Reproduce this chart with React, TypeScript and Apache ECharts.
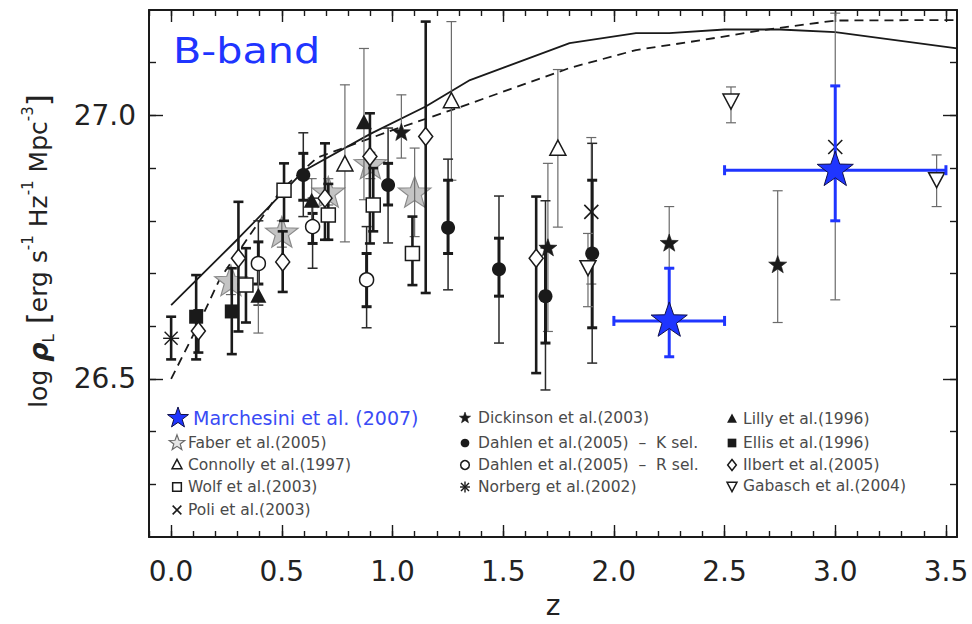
import React, { useEffect, useRef } from 'react';
import * as echarts from 'echarts';

const FONT = '"DejaVu Sans", "Liberation Sans", sans-serif';
const INK = '#1a1a1a';
const BLUE = '#1f35ff';
const GREY_BAR = '#6a6a6a';

// Axis ranges and ticks
const X_MIN = -0.1;
const X_MAX = 3.55;
const Y_MIN = 26.2;
const Y_MAX = 27.2;
const X_LABELS = [0, 0.5, 1, 1.5, 2, 2.5, 3, 3.5];
const X_MINOR = Array.from({ length: 37 }, (_, i) => Math.round(i - 1) / 10);
const Y_LABELS = [26.5, 27.0];
const Y_MINOR = Array.from({ length: 9 }, (_, i) => Math.round(263 + i) / 10);

// Model curves
const SOLID_Z = [0, 0.3, 0.6, 0.9, 1.15, 1.35, 1.8, 2.1, 2.25, 2.5, 2.75, 3.0, 3.55];
const SOLID_Y = [26.64, 26.765, 26.895, 26.965, 27.017, 27.067, 27.137, 27.156, 27.156, 27.163, 27.163, 27.158, 27.127];
const DASHED_Z = [0, 0.12, 0.22, 0.4, 0.5, 0.66, 1.0, 1.3, 1.8, 2.1, 2.4, 2.66, 3.0, 3.55];
const DASHED_Y = [26.5, 26.6, 26.69, 26.8, 26.86, 26.92, 26.972, 27.015, 27.09, 27.124, 27.143, 27.161, 27.18, 27.181];

// [z, logL, zLow, zHigh, logLLow, logLHigh]
const MARCHESINI = [
  [2.25, 26.61, 2.0, 2.5, 26.542, 26.71],
  [3.0, 26.896, 2.5, 3.5, 26.8, 27.056],
];
// [z, logL, low, high]
const FABER = [
  [0.27, 26.684, 26.66, 26.71],
  [0.5, 26.776, 26.75, 26.8],
  [0.71, 26.852, 26.83, 26.88],
  [0.9, 26.906, 26.88, 26.93],
  [1.1, 26.852, 26.77, 26.938],
];
const CONNOLLY = [
  [0.785, 26.906, 26.76, 27.058],
  [1.266, 27.026, 26.877, 27.178],
  [1.747, 26.936, 26.788, 27.087],
];
const WOLF = [
  [0.338, 26.678, 26.607, 26.748],
  [0.51, 26.858, 26.8, 26.909],
  [0.71, 26.811, 26.764, 26.87],
  [0.913, 26.83, 26.78, 26.9],
  [1.09, 26.738, 26.678, 26.808],
];
const POLI = [
  [1.898, 26.817, 26.68, 26.958],
  [3.0, 26.94, 26.65, 27.194],
];
const DICKINSON = [
  [1.04, 26.967, 26.919, 27.039],
  [1.702, 26.748, 26.59, 26.909],
  [2.25, 26.757, 26.71, 26.827],
  [2.74, 26.716, 26.607, 26.857],
];
// [z, logL, low, high, innerLow, innerHigh]
const DAHLEN_K = [
  [0.597, 26.887, 26.808, 26.967, 26.839, 26.928],
  [0.98, 26.868, 26.758, 26.976, 26.83, 26.909],
  [1.251, 26.787, 26.669, 26.917, 26.738, 26.877],
  [1.481, 26.708, 26.568, 26.847, 26.657, 26.767],
  [1.691, 26.657, 26.479, 26.838, 26.568, 26.75],
  [1.902, 26.738, 26.53, 26.947, 26.597, 26.877],
];
const DAHLEN_R = [
  [0.394, 26.719, 26.64, 26.8, 26.68, 26.76],
  [0.639, 26.789, 26.71, 26.843, 26.757, 26.814],
  [0.883, 26.688, 26.597, 26.789, 26.637, 26.738],
];
const NORBERG = [[0.0, 26.577, 26.537, 26.618]];
const LILLY = [
  [0.394, 26.656, 26.587, 26.72],
  [0.635, 26.836, 26.79, 26.88],
  [0.871, 26.985, 26.84, 27.127],
];
const ELLIS = [
  [0.113, 26.618, 26.537, 26.697],
  [0.274, 26.628, 26.547, 26.71],
];
const ILBERT = [
  [0.123, 26.591, 26.55, 26.63],
  [0.304, 26.729, 26.59, 26.836],
  [0.504, 26.722, 26.665, 26.78],
  [0.695, 26.843, 26.764, 26.947],
  [0.898, 26.922, 26.757, 27.004],
  [1.15, 26.96, 26.663, 27.178],
  [1.649, 26.729, 26.511, 26.846],
];
const GABASCH = [
  [1.883, 26.713, 26.637, 26.776],
  [2.529, 27.029, 26.986, 27.054],
  [3.458, 26.88, 26.827, 26.925],
];

// Legend entries, column by column
const LEGEND_COL1 = [
  { label: 'Marchesini et al. (2007)', glyph: 'blueStar' },
  { label: 'Faber et al.(2005)', glyph: 'faberOpen' },
  { label: 'Connolly et al.(1997)', glyph: 'openTri' },
  { label: 'Wolf et al.(2003)', glyph: 'openBox' },
  { label: 'Poli et al.(2003)', glyph: 'cross' },
];
const LEGEND_COL2 = [
  { label: 'Dickinson et al.(2003)', glyph: 'smallStar' },
  { label: 'Dahlen et al.(2005)  \u2013  K sel.', glyph: 'dot' },
  { label: 'Dahlen et al.(2005)  \u2013  R sel.', glyph: 'ring' },
  { label: 'Norberg et al.(2002)', glyph: 'aster' },
];
const LEGEND_COL3 = [
  { label: 'Lilly et al.(1996)', glyph: 'tri' },
  { label: 'Ellis et al.(1996)', glyph: 'box' },
  { label: 'Ilbert et al.(2005)', glyph: 'openDiamond' },
  { label: 'Gabasch et al.(2004)', glyph: 'openDownTri' },
];

function starPts(cx: number, cy: number, R: number, r: number) {
  const pts: number[][] = [];
  for (let i = 0; i < 10; i++) {
    const a = -Math.PI / 2 + (i * Math.PI) / 5;
    const rr = i % 2 === 0 ? R : r;
    pts.push([cx + rr * Math.cos(a), cy + rr * Math.sin(a)]);
  }
  return pts;
}

function ln(x1: number, y1: number, x2: number, y2: number, stroke: string, lineWidth: number) {
  return { type: 'line', shape: { x1, y1, x2, y2 }, style: { stroke, lineWidth } };
}

function glyph(kind: string, cx: number, cy: number, k: number): any {
  switch (kind) {
    case 'blueStar':
      return { type: 'polygon', shape: { points: starPts(cx, cy, 19 * k, 7.6 * k) }, style: { fill: BLUE, stroke: '#10104a', lineWidth: 1 } };
    case 'faber':
      return { type: 'polygon', shape: { points: starPts(cx, cy, 17 * k, 7 * k) }, style: { fill: '#c4c4c4', stroke: '#8a8a8a', lineWidth: 1.2 } };
    case 'faberOpen':
      return { type: 'polygon', shape: { points: starPts(cx, cy, 17 * k, 7 * k) }, style: { fill: '#e6e6e6', stroke: '#6a6a6a', lineWidth: 1.2 } };
    case 'smallStar':
      return { type: 'polygon', shape: { points: starPts(cx, cy, 9.5 * k, 3.9 * k) }, style: { fill: INK, stroke: INK, lineWidth: 0.6 } };
    case 'dot':
      return { type: 'circle', shape: { cx, cy, r: 7 * k }, style: { fill: INK } };
    case 'ring':
      return { type: 'circle', shape: { cx, cy, r: 7 * k }, style: { fill: '#fff', stroke: INK, lineWidth: 1.5 } };
    case 'box':
      return { type: 'rect', shape: { x: cx - 7 * k, y: cy - 7 * k, width: 14 * k, height: 14 * k }, style: { fill: INK } };
    case 'openBox':
      return { type: 'rect', shape: { x: cx - 7 * k, y: cy - 7 * k, width: 14 * k, height: 14 * k }, style: { fill: '#fff', stroke: INK, lineWidth: 1.5 } };
    case 'tri':
      return { type: 'polygon', shape: { points: [[cx, cy - 9 * k], [cx + 8 * k, cy + 6 * k], [cx - 8 * k, cy + 6 * k]] }, style: { fill: INK } };
    case 'openTri':
      return { type: 'polygon', shape: { points: [[cx, cy - 9 * k], [cx + 8 * k, cy + 6 * k], [cx - 8 * k, cy + 6 * k]] }, style: { fill: '#fff', stroke: INK, lineWidth: 1.5 } };
    case 'openDownTri':
      return { type: 'polygon', shape: { points: [[cx, cy + 9 * k], [cx + 8 * k, cy - 6 * k], [cx - 8 * k, cy - 6 * k]] }, style: { fill: '#fff', stroke: INK, lineWidth: 1.5 } };
    case 'openDiamond':
      return { type: 'polygon', shape: { points: [[cx, cy - 9 * k], [cx + 7 * k, cy], [cx, cy + 9 * k], [cx - 7 * k, cy]] }, style: { fill: '#fff', stroke: INK, lineWidth: 1.5 } };
    case 'cross':
      return {
        type: 'group',
        children: [
          ln(cx - 7 * k, cy - 7 * k, cx + 7 * k, cy + 7 * k, INK, 1.6),
          ln(cx - 7 * k, cy + 7 * k, cx + 7 * k, cy - 7 * k, INK, 1.6),
        ],
      };
    case 'aster':
      return {
        type: 'group',
        children: [
          ln(cx, cy - 9 * k, cx, cy + 9 * k, INK, 1.4),
          ln(cx - 8 * k, cy, cx + 8 * k, cy, INK, 1.4),
          ln(cx - 6.5 * k, cy - 6.5 * k, cx + 6.5 * k, cy + 6.5 * k, INK, 1.4),
          ln(cx - 6.5 * k, cy + 6.5 * k, cx + 6.5 * k, cy - 6.5 * k, INK, 1.4),
        ],
      };
    default:
      return { type: 'group', children: [] };
  }
}

function vBar(x: number, yTop: number, yBot: number, stroke: string, lw: number, cap: number) {
  return [
    ln(x, yTop, x, yBot, stroke, lw),
    ln(x - cap, yTop, x + cap, yTop, stroke, lw),
    ln(x - cap, yBot, x + cap, yBot, stroke, lw),
  ];
}

function hBar(y: number, xL: number, xR: number, stroke: string, lw: number, cap: number) {
  return [
    ln(xL, y, xR, y, stroke, lw),
    ln(xL, y - cap, xL, y + cap, stroke, lw),
    ln(xR, y - cap, xR, y + cap, stroke, lw),
  ];
}

function barSeries(name: string, rows: number[][], look: 'thin' | 'thick' | 'dual', z: number) {
  return {
    type: 'custom',
    name: name + ' errors',
    z,
    silent: true,
    clip: false,
    data: rows,
    encode: { x: 0, y: 1 },
    renderItem: (_p: any, api: any) => {
      const x = api.value(0);
      const lo = api.coord([x, api.value(2)]);
      const hi = api.coord([x, api.value(3)]);
      const cx = lo[0];
      let children: any[] = [];
      if (look === 'thin') children = vBar(cx, hi[1], lo[1], GREY_BAR, 1.2, 5);
      else if (look === 'thick') children = vBar(cx, hi[1], lo[1], INK, 2.6, 5);
      else {
        const ilo = api.coord([x, api.value(4)]);
        const ihi = api.coord([x, api.value(5)]);
        children = vBar(cx, hi[1], lo[1], '#2a2a2a', 1.5, 5).concat(vBar(cx, ihi[1], ilo[1], INK, 3, 5));
      }
      return { type: 'group', children };
    },
  };
}

function markSeries(name: string, rows: number[][], kind: string, z: number) {
  return {
    type: 'custom',
    name,
    z,
    silent: true,
    clip: false,
    data: rows,
    encode: { x: 0, y: 1 },
    renderItem: (_p: any, api: any) => {
      const p = api.coord([api.value(0), api.value(1)]);
      return glyph(kind, p[0], p[1], 1);
    },
  };
}

function buildOption() {
  const tickStyle = { color: INK, width: 1.4 };
  const lineStyle = { color: INK, width: 2 };
  const xAx = (position: string, ticks: number[], len: number, main: boolean) => ({
    type: 'value',
    min: X_MIN,
    max: X_MAX,
    position,
    axisLine: { show: main, onZero: false, lineStyle },
    axisTick: { show: true, inside: true, length: len, customValues: ticks, lineStyle: tickStyle },
    axisLabel: main && position === 'bottom'
      ? { show: true, customValues: X_LABELS, formatter: (v: number) => v.toFixed(1), fontSize: 28, fontFamily: FONT, color: '#222', margin: 20 }
      : { show: false },
    splitLine: { show: false },
    ...(main && position === 'bottom'
      ? { name: 'z', nameLocation: 'middle', nameGap: 54, nameTextStyle: { fontSize: 28, fontFamily: FONT, color: '#222' } }
      : {}),
  });
  const yAx = (position: string, ticks: number[], len: number, main: boolean) => ({
    type: 'value',
    min: Y_MIN,
    max: Y_MAX,
    position,
    axisLine: { show: main, onZero: false, lineStyle },
    axisTick: { show: true, inside: true, length: len, customValues: ticks, lineStyle: tickStyle },
    axisLabel: main && position === 'left'
      ? { show: true, customValues: Y_LABELS, formatter: (v: number) => v.toFixed(1), fontSize: 28, fontFamily: FONT, color: '#222', margin: 13 }
      : { show: false },
    splitLine: { show: false },
  });

  const marchesiniBars = {
    type: 'custom',
    name: 'Marchesini errors',
    z: 8,
    silent: true,
    clip: false,
    data: MARCHESINI,
    encode: { x: 0, y: 1 },
    renderItem: (_p: any, api: any) => {
      const c = api.coord([api.value(0), api.value(1)]);
      const l = api.coord([api.value(2), api.value(1)]);
      const r = api.coord([api.value(3), api.value(1)]);
      const b = api.coord([api.value(0), api.value(4)]);
      const t = api.coord([api.value(0), api.value(5)]);
      return {
        type: 'group',
        children: hBar(c[1], l[0], r[0], BLUE, 3, 5).concat(vBar(c[0], t[1], b[1], BLUE, 3, 5)),
      };
    },
  };

  const legendEls: any[] = [];
  const addCol = (entries: any[], sx: number, tx: number, ys: number[]) => {
    entries.forEach((e, i) => {
      const first = e.glyph === 'blueStar';
      legendEls.push({ ...glyph(e.glyph, first ? sx + 1 : sx, ys[i], first ? 0.58 : e.glyph === 'faberOpen' ? 0.48 : 0.62), z: 100 });
      legendEls.push({
        type: 'text',
        x: first ? tx + 5 : tx,
        y: ys[i],
        z: 100,
        style: {
          text: e.label,
          fontSize: first ? 19 : 15.5,
          fontFamily: FONT,
          fill: first ? '#3a4bf5' : '#4a4a4a',
          verticalAlign: 'middle',
          align: 'left',
        },
      });
    });
  };
  addCol(LEGEND_COL1, 177, 188, [418, 443, 465, 487, 510]);
  addCol(LEGEND_COL2, 465, 478, [418, 443, 465, 487]);
  addCol(LEGEND_COL3, 732, 743, [419, 443, 465, 486]);

  return {
    animation: false,
    backgroundColor: '#ffffff',
    grid: { left: 149, right: 15, top: 10, bottom: 86 },
    xAxis: [
      xAx('bottom', X_MINOR, 6, true),
      xAx('bottom', X_LABELS, 12, false),
      xAx('top', X_MINOR, 6, true),
      xAx('top', X_LABELS, 12, false),
    ],
    yAxis: [
      yAx('left', Y_MINOR, 7, true),
      yAx('left', Y_LABELS, 14, false),
      yAx('right', Y_MINOR, 7, true),
      yAx('right', Y_LABELS, 14, false),
    ],
    series: [
      {
        type: 'line', name: 'model (solid)', z: 2, silent: true, symbol: 'none', showSymbol: false,
        data: SOLID_Z.map((z, i) => [z, SOLID_Y[i]]),
        lineStyle: { color: INK, width: 1.8 },
      },
      {
        type: 'line', name: 'model (dashed)', z: 2, silent: true, symbol: 'none', showSymbol: false,
        data: DASHED_Z.map((z, i) => [z, DASHED_Y[i]]),
        lineStyle: { color: INK, width: 1.8, type: [9, 6] },
      },
      markSeries('Faber et al.(2005)', FABER, 'faber', 3),
      barSeries('Faber', FABER, 'thin', 4),
      barSeries('Connolly', CONNOLLY, 'thin', 4),
      barSeries('Wolf', WOLF, 'thick', 4),
      barSeries('Poli', POLI, 'thin', 4),
      barSeries('Dickinson', DICKINSON, 'thin', 4),
      barSeries('Dahlen K', DAHLEN_K, 'dual', 4),
      barSeries('Dahlen R', DAHLEN_R, 'dual', 4),
      barSeries('Norberg', NORBERG, 'thick', 4),
      barSeries('Lilly', LILLY, 'thin', 4),
      barSeries('Ellis', ELLIS, 'thick', 4),
      barSeries('Ilbert', ILBERT, 'thick', 4),
      barSeries('Gabasch', GABASCH, 'thin', 4),
      markSeries('Connolly et al.(1997)', CONNOLLY, 'openTri', 5),
      markSeries('Wolf et al.(2003)', WOLF, 'openBox', 5),
      markSeries('Poli et al.(2003)', POLI, 'cross', 5),
      markSeries('Dickinson et al.(2003)', DICKINSON, 'smallStar', 5),
      markSeries('Dahlen et al.(2005) K', DAHLEN_K, 'dot', 5),
      markSeries('Dahlen et al.(2005) R', DAHLEN_R, 'ring', 5),
      markSeries('Norberg et al.(2002)', NORBERG, 'aster', 5),
      markSeries('Lilly et al.(1996)', LILLY, 'tri', 5),
      markSeries('Ellis et al.(1996)', ELLIS, 'box', 5),
      markSeries('Ilbert et al.(2005)', ILBERT, 'openDiamond', 5),
      markSeries('Gabasch et al.(2004)', GABASCH, 'openDownTri', 5),
      marchesiniBars,
      markSeries('Marchesini et al. (2007)', MARCHESINI, 'blueStar', 9),
    ],
    graphic: [
      {
        type: 'text', x: 173, y: 51, z: 100, scaleX: 1.18,
        style: { text: 'B-band', fontSize: 35, fontFamily: FONT, fill: BLUE, verticalAlign: 'middle', align: 'left' },
      },
      {
        type: 'text', x: 38, y: 251, rotation: Math.PI / 2, z: 100,
        style: {
          text: '{t|log }{r|\u03c1}{s|L}{b| [}{t|erg s}{p|-1}{t| Hz}{p|-1}{t| Mpc}{p|-3}{b|]}',
          align: 'center',
          verticalAlign: 'middle',
          fill: '#222',
          fontFamily: FONT,
          fontSize: 25,
          rich: {
            t: { fontSize: 25, fontFamily: FONT, fill: '#222', lineHeight: 36 },
            b: { fontSize: 31, fontFamily: FONT, fill: '#222', lineHeight: 36 },
            r: { fontSize: 27, fontFamily: FONT, fill: '#222', fontStyle: 'italic', fontWeight: 'bold', lineHeight: 36 },
            s: { fontSize: 15, fontFamily: FONT, fill: '#222', verticalAlign: 'bottom', lineHeight: 36 },
            p: { fontSize: 15, fontFamily: FONT, fill: '#222', verticalAlign: 'top', lineHeight: 30 },
          },
        },
      },
      ...legendEls,
    ],
  };
}

export default function App() {
  const ref = useRef<HTMLDivElement>(null);
  useEffect(() => {
    if (!ref.current) return;
    const chart = echarts.init(ref.current, null, { renderer: 'svg' });
    chart.setOption(buildOption() as any);
    return () => chart.dispose();
  }, []);
  return (
    <div
      ref={ref}
      style={{ position: 'absolute', left: 0, top: 0, width: 972, height: 624, background: '#fff' }}
    />
  );
}
